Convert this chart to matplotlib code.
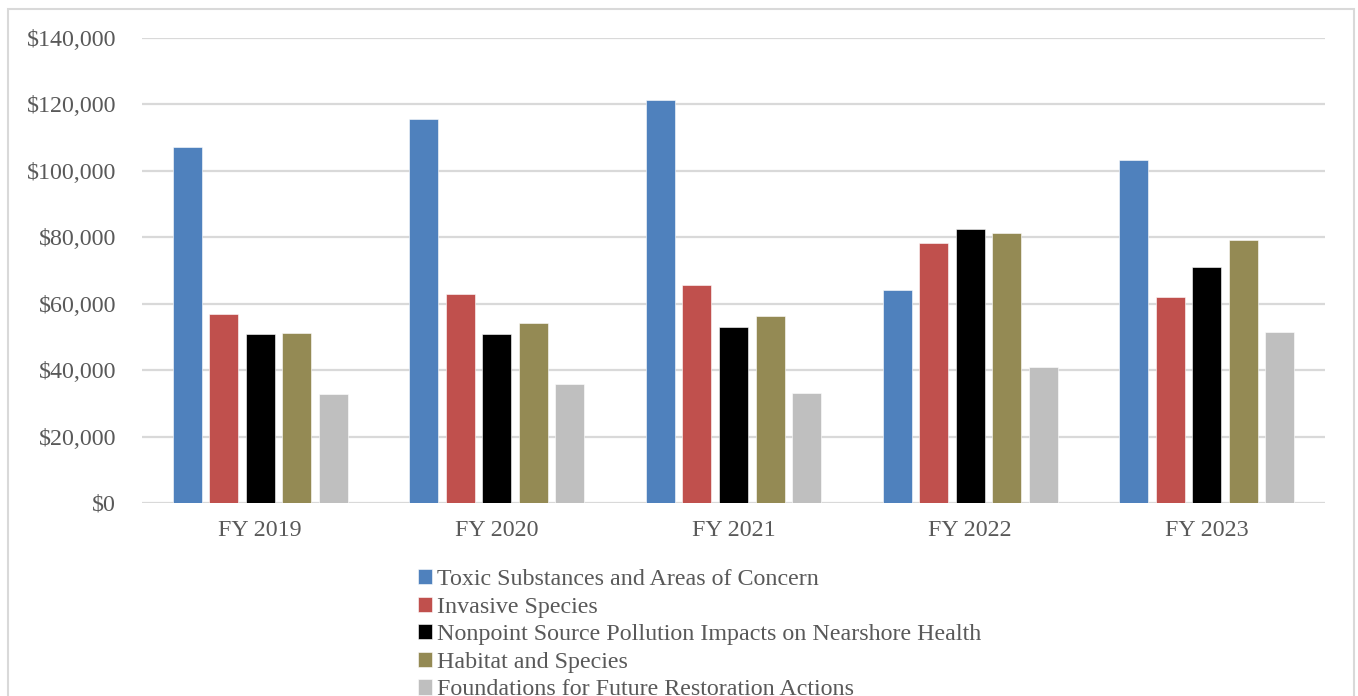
import numpy as np
import matplotlib.pyplot as plt
from matplotlib.patches import Rectangle
from matplotlib.ticker import FuncFormatter

plt.rcParams['font.family'] = ['Liberation Serif', 'DejaVu Serif']

# Data (dollars)
years = ['FY 2019', 'FY 2020', 'FY 2021', 'FY 2022', 'FY 2023']
toxic = [107300, 115700, 121400, 64100, 103400]
invasive = [56800, 62800, 65500, 78400, 62000]
nonpoint = [51000, 50900, 53000, 82500, 71200]
habitat = [51200, 54300, 56300, 81300, 79200]
foundations = [32900, 35700, 33200, 41000, 51500]

series_names = ['Toxic Substances and Areas of Concern',
                'Invasive Species',
                'Nonpoint Source Pollution Impacts on Nearshore Health',
                'Habitat and Species',
                'Foundations for Future Restoration Actions']
series_vals = [toxic, invasive, nonpoint, habitat, foundations]
colors = ['#4F81BD', '#C0504D', '#000000', '#948A54', '#BFBFBF']

fig = plt.figure(figsize=(13.58, 6.96), dpi=100)
W, H = 1358, 696
# plot area in pixels: x 142..1325, y 38..503
ax = fig.add_axes([142 / W, 1 - 503 / H, (1325 - 142) / W, (503 - 38) / H])

x = np.arange(len(years))
pitch = 0.1543
width = 0.1226
for i, (name, vals, c) in enumerate(zip(series_names, series_vals, colors)):
    ax.bar(x + (i - 2) * pitch, vals, width, color=c, label=name,
           edgecolor='white', linewidth=0.4, zorder=3)

ax.set_xlim(-0.5, len(years) - 0.5)
ax.set_ylim(0, 140000)
ax.set_yticks(np.arange(0, 140001, 20000))
ax.yaxis.set_major_formatter(FuncFormatter(lambda v, p: '${:,.0f}'.format(v)))
ax.grid(axis='y', color='#D9D9D9', linewidth=1.6, zorder=0)
ax.set_xticks(x)
ax.set_xticklabels(years)
for s in ax.spines.values():
    s.set_visible(False)
ax.tick_params(axis='both', length=0, labelsize=17.3, labelcolor='#595959')
ax.tick_params(axis='y', pad=18.5)
ax.tick_params(axis='x', pad=12)

leg = fig.legend(loc='upper left', bbox_to_anchor=(418 / W, 1 - 569 / H),
                 frameon=False, fontsize=17.3, handlelength=0.6, handleheight=0.6,
                 handletextpad=0.2, labelspacing=0.27, borderpad=0, borderaxespad=0)
for t in leg.get_texts():
    t.set_color('#595959')

# outer chart border (bottom is cut off in the reference)
fig.patches.append(Rectangle((8 / W, -0.05), (1354 - 8) / W, 1.05 - 9 / H,
                             transform=fig.transFigure, fill=False,
                             edgecolor='#D9D9D9', linewidth=1.5))

plt.savefig('out.png', dpi=100)
